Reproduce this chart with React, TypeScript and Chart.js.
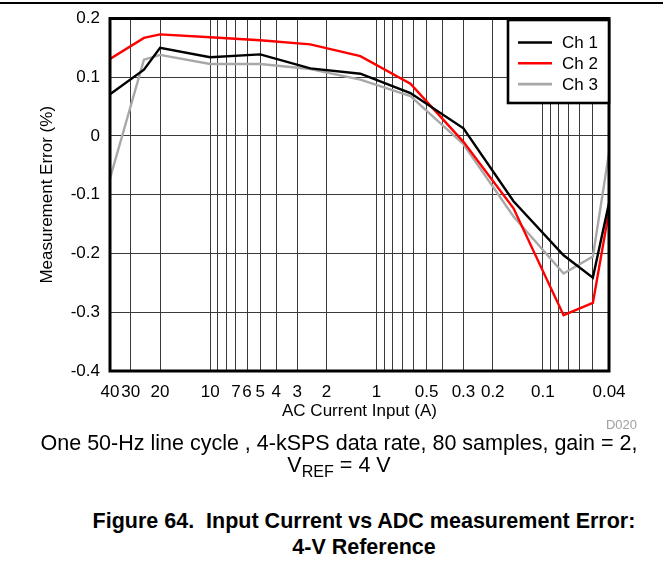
import React, { useEffect, useRef } from 'react';
import { Chart, registerables } from 'chart.js';

Chart.register(...registerables);

// ---- data ----
const currents = [40, 25, 20, 10, 5, 2.5, 1.25, 0.625, 0.3, 0.15, 0.075, 0.05, 0.04];
const ch1 = [0.071, 0.113, 0.15, 0.134, 0.139, 0.115, 0.106, 0.073, 0.013, -0.111, -0.203, -0.241, -0.114];
const ch2 = [0.131, 0.167, 0.173, 0.168, 0.163, 0.156, 0.136, 0.089, -0.01, -0.123, -0.305, -0.284, -0.128];
const ch3 = [-0.072, 0.13, 0.138, 0.1225, 0.1225, 0.114, 0.096, 0.068, -0.014, -0.137, -0.234, -0.205, -0.029];
const seriesLabels = ['Ch 1', 'Ch 2', 'Ch 3'];
const seriesColors = ['#000000', '#ff0000', '#a8a8a8'];

const xGridValues = [40, 30, 20, 10, 9, 8, 7, 6, 5, 4, 3, 2, 1, 0.9, 0.8, 0.7, 0.6, 0.5, 0.4, 0.3, 0.2, 0.1, 0.09, 0.08, 0.07, 0.06, 0.05, 0.04];
const xTickLabels = ['40', '30', '20', '10', '7', '6', '5', '4', '3', '2', '1', '0.5', '0.3', '0.2', '0.1', '0.04'];
const xMin = 0.04;
const xMax = 40;
const yMin = -0.4;
const yMax = 0.2;
const yStep = 0.1;

const xTitle = 'AC Current Input (A)';
const yTitle = 'Measurement Error (%)';

const FONT = "'Liberation Sans', Arial, Helvetica, sans-serif";
const W = 663;
const H = 430;

const framePlugin = {
  id: 'frameAndLegend',
  afterDatasetsDraw(chart: any) {
    const { ctx, chartArea: a } = chart;
    ctx.save();
    // plot frame
    ctx.strokeStyle = '#000';
    ctx.lineWidth = 3;
    ctx.strokeRect(a.left, a.top, a.right - a.left, a.bottom - a.top);

    // legend box inside the top-right corner
    const bw = 101;
    const bh = 83;
    const bx = a.right - bw;
    const by = a.top + 1.5;
    ctx.fillStyle = '#fff';
    ctx.fillRect(bx, by, bw, bh);
    ctx.lineWidth = 2.6;
    ctx.strokeRect(bx, by, bw, bh);

    ctx.font = `17px ${FONT}`;
    ctx.textBaseline = 'middle';
    ctx.textAlign = 'left';
    chart.data.datasets.forEach((ds: any, i: number) => {
      const y = by + 22.5 + i * 20.8;
      ctx.strokeStyle = ds.borderColor;
      ctx.lineWidth = 2.6;
      ctx.beginPath();
      ctx.moveTo(bx + 10, y);
      ctx.lineTo(bx + 44, y);
      ctx.stroke();
      ctx.fillStyle = '#000';
      ctx.fillText(ds.label, bx + 54, y + 1);
    });
    ctx.restore();
  },
};

function App() {
  const canvasRef = useRef<HTMLCanvasElement | null>(null);

  useEffect(() => {
    if (!canvasRef.current) return;
    const series = [ch1, ch2, ch3];
    const labelValues = xTickLabels.map((s) => parseFloat(s));
    const chart = new Chart(canvasRef.current, {
      type: 'line',
      data: {
        datasets: series.map((vals, i) => ({
          label: seriesLabels[i],
          data: currents.map((c, j) => ({ x: c, y: vals[j] })),
          borderColor: seriesColors[i],
          backgroundColor: seriesColors[i],
          borderWidth: 2.4,
          pointRadius: 0,
          tension: 0,
          fill: false,
        })),
      },
      options: {
        responsive: false,
        animation: false,
        devicePixelRatio: 1,
        layout: { padding: { top: 18, right: W - 609, left: 0, bottom: 0 } },
        plugins: {
          legend: { display: false },
          tooltip: { enabled: false },
        },
        scales: {
          x: {
            type: 'logarithmic',
            reverse: true,
            min: xMin,
            max: xMax,
            afterBuildTicks: (scale: any) => {
              scale.ticks = xGridValues.map((v) => ({ value: v }));
            },
            afterFit: (scale: any) => {
              scale.height = H - 371;
            },
            border: { display: false },
            grid: { color: '#3a3a3a', lineWidth: 1, drawTicks: false },
            ticks: {
              autoSkip: false,
              maxRotation: 0,
              minRotation: 0,
              padding: 13,
              color: '#000',
              font: { family: FONT, size: 17, lineHeight: 1 },
              callback: (value: any) => {
                const idx = labelValues.indexOf(Number(value));
                return idx >= 0 ? xTickLabels[idx] : '';
              },
            },
            title: {
              display: true,
              text: xTitle,
              color: '#000',
              font: { family: FONT, size: 17, lineHeight: 1 },
              padding: { top: 0, bottom: 10.5 },
            },
          },
          y: {
            type: 'linear',
            min: yMin,
            max: yMax,
            afterFit: (scale: any) => {
              scale.width = 110;
            },
            border: { display: false },
            grid: { color: '#3a3a3a', lineWidth: 1, drawTicks: false },
            ticks: {
              stepSize: yStep,
              padding: 10,
              color: '#000',
              font: { family: FONT, size: 17, lineHeight: 1 },
              callback: (value: any) => String(Math.round(Number(value) * 10) / 10),
            },
            title: {
              display: true,
              text: yTitle,
              color: '#000',
              font: { family: FONT, size: 17, lineHeight: 1 },
              padding: { top: 39, bottom: 0 },
            },
          },
        },
      },
      plugins: [framePlugin],
    } as any);
    return () => chart.destroy();
  }, []);

  return (
    <div
      style={{
        position: 'absolute',
        left: 0,
        top: 0,
        width: W,
        height: 571,
        background: '#fff',
        fontFamily: FONT,
        color: '#000',
        overflow: 'hidden',
      }}
    >
      <div style={{ position: 'absolute', left: 0, top: 2, width: W, height: 2, background: '#000' }} />
      <canvas
        ref={canvasRef}
        width={W}
        height={H}
        style={{ position: 'absolute', left: 0, top: 0, width: W, height: H, display: 'block' }}
      />
      <div
        style={{
          position: 'absolute',
          right: 26,
          top: 418,
          fontSize: 13,
          lineHeight: '13px',
          color: '#a0a0a0',
        }}
      >
        D020
      </div>
      <div
        style={{
          position: 'absolute',
          left: 0,
          width: 678,
          top: 433,
          fontSize: 21.5,
          lineHeight: '21.5px',
          textAlign: 'center',
          whiteSpace: 'nowrap',
        }}
      >
        One 50-Hz line cycle , 4-kSPS data rate, 80 samples, gain = 2,
      </div>
      <div
        style={{
          position: 'absolute',
          left: 0,
          width: 678,
          top: 455,
          fontSize: 21.5,
          lineHeight: '21.5px',
          textAlign: 'center',
          whiteSpace: 'nowrap',
        }}
      >
        V<sub style={{ fontSize: '0.75em', verticalAlign: '-0.3em', lineHeight: 0 }}>REF</sub> = 4 V
      </div>
      <div
        style={{
          position: 'absolute',
          left: 0,
          width: 728,
          top: 508,
          fontSize: 21.5,
          lineHeight: '26px',
          fontWeight: 'bold',
          textAlign: 'center',
          whiteSpace: 'nowrap',
        }}
      >
        Figure 64.&nbsp; Input Current vs ADC measurement Error:
        <br />
        4-V Reference
      </div>
    </div>
  );
}

export default App;
